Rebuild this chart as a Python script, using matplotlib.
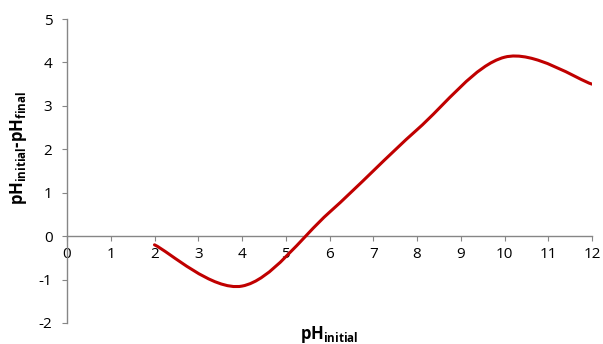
import matplotlib
matplotlib.use("Agg")
import matplotlib.pyplot as plt
from matplotlib.path import Path
from matplotlib.patches import PathPatch
import numpy as np

ph_initial = [2, 4, 6, 8, 10, 12]
ph_diff = [-0.2, -1.15, 0.55, 2.45, 4.12, 3.5]
x_ticks = list(range(0, 13))
y_ticks = list(range(-2, 6))

plt.rcParams['font.family'] = ['Open Sans', 'DejaVu Sans']
plt.rcParams['mathtext.fontset'] = 'custom'
plt.rcParams['mathtext.rm'] = 'Open Sans'
plt.rcParams['mathtext.bf'] = 'Open Sans:bold'

fig = plt.figure(figsize=(6.03, 3.44), dpi=100)
ax = fig.add_axes([67/603, 1-323/344, (592-67)/603, (323-19)/344])

# Excel-like smoothed line (Catmull-Rom -> cubic Bezier)
pts = np.column_stack([ph_initial, ph_diff]).astype(float)
n = len(pts)
verts = [tuple(pts[0])]
codes = [Path.MOVETO]
for i in range(n - 1):
    p0 = pts[i - 1] if i > 0 else pts[i]
    p1 = pts[i]
    p2 = pts[i + 1]
    p3 = pts[i + 2] if i + 2 < n else pts[i + 1]
    c1 = p1 + (p2 - p0) / 6.0
    c2 = p2 - (p3 - p1) / 6.0
    verts += [tuple(c1), tuple(c2), tuple(p2)]
    codes += [Path.CURVE4] * 3
patch = PathPatch(Path(verts, codes), facecolor='none', edgecolor='#C00000',
                  lw=2.2, capstyle='round', joinstyle='round', zorder=3)
ax.add_patch(patch)

ax.set_xlim(0, 12)
ax.set_ylim(-2, 5)
ax.set_xticks(x_ticks)
ax.set_yticks(y_ticks)
ax.set_xticklabels([str(v) for v in x_ticks])
ax.set_yticklabels([str(v) for v in y_ticks])

gray = '#868686'
for s in ['top', 'right']:
    ax.spines[s].set_visible(False)
ax.spines['bottom'].set_position(('data', 0))
ax.spines['bottom'].set_color(gray)
ax.spines['left'].set_color(gray)
ax.spines['bottom'].set_linewidth(1.0)
ax.spines['left'].set_linewidth(1.0)
ax.tick_params(axis='x', direction='out', length=3.5, width=0.8, color=gray,
               pad=4, labelsize=11, labelcolor='black')
ax.tick_params(axis='y', direction='out', length=3.5, width=0.8, color=gray,
               pad=7, labelsize=11, labelcolor='black')

ax.set_xlabel(r'$\mathbf{pH_{initial}}$', fontsize=12)
ax.xaxis.set_label_coords(0.499, -0.037)
ax.xaxis.label.set_va('center')
ax.set_ylabel(r'$\mathbf{pH_{initial}}$-$\mathbf{pH_{final}}$', fontsize=12, fontweight='bold')
ax.yaxis.set_label_coords(-0.093, 0.576)
ax.yaxis.label.set_va('center')

fig.savefig('out.png', dpi=100)
